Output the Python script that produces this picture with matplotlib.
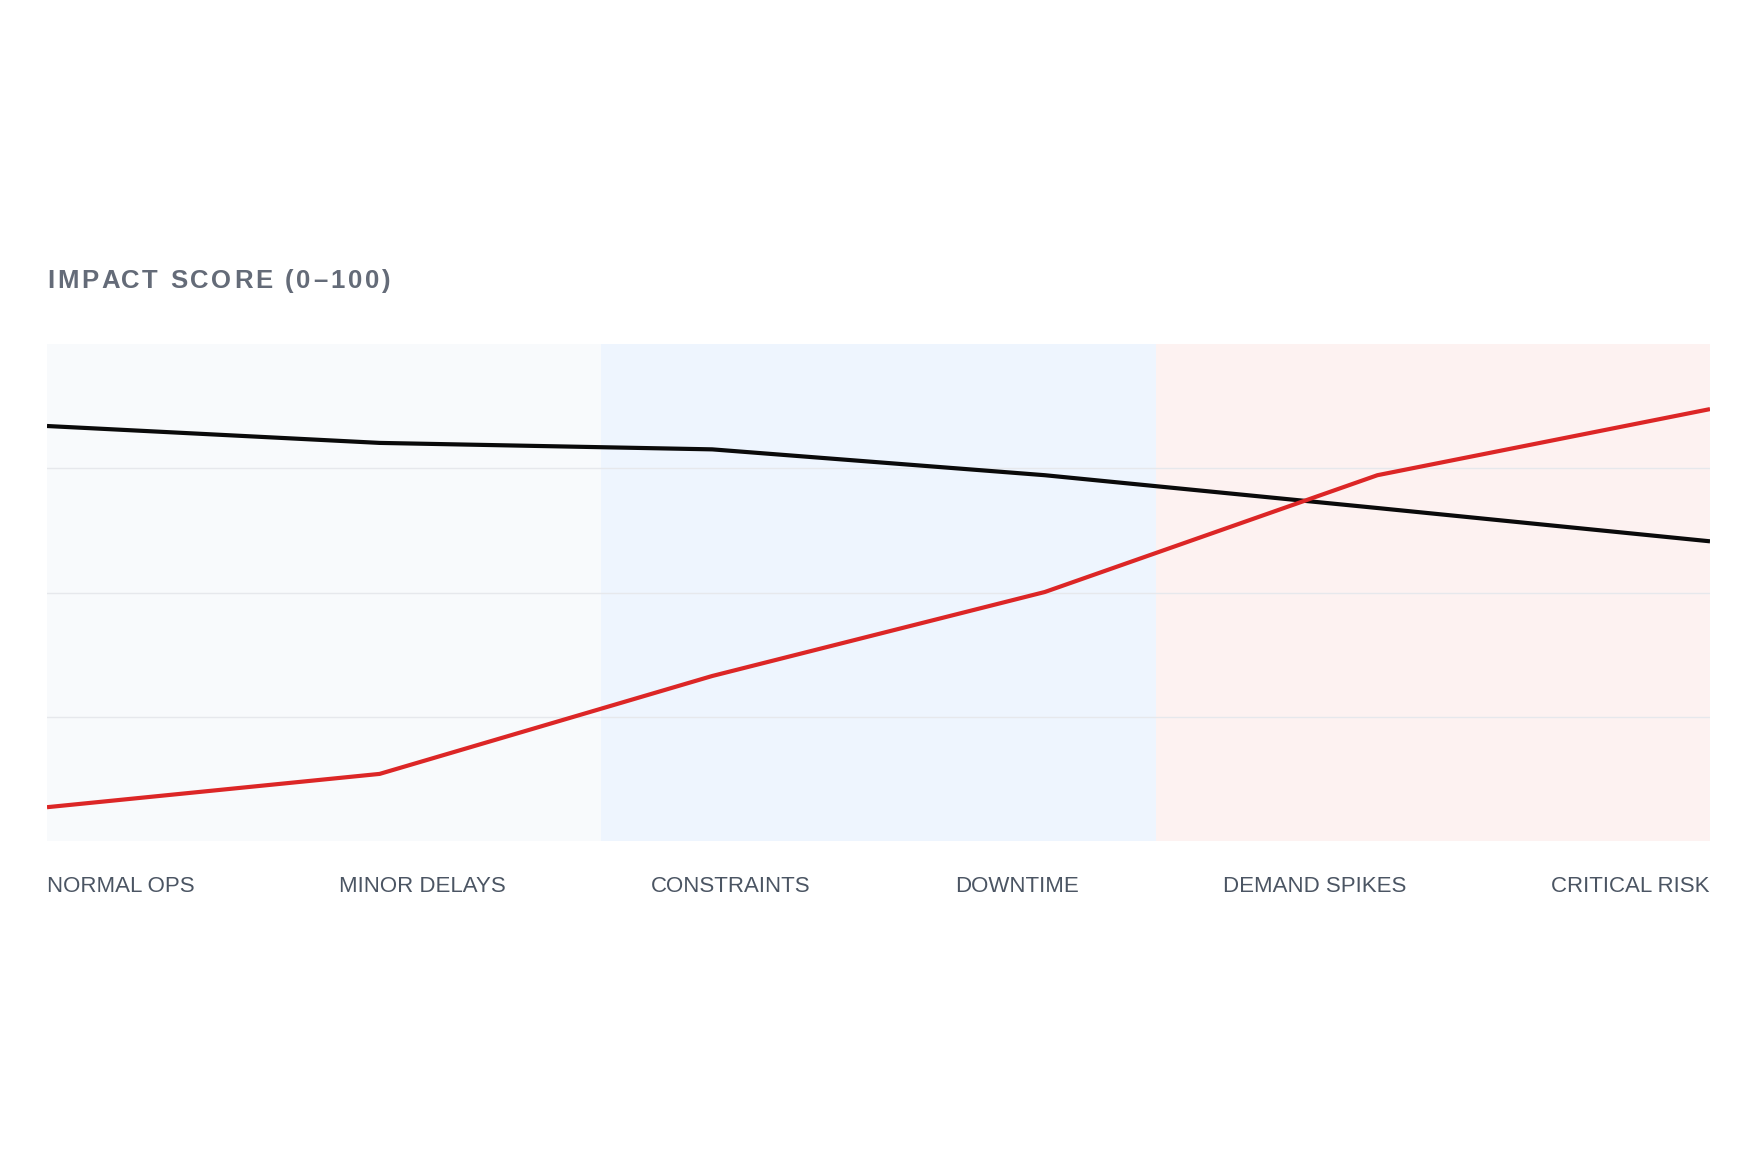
import numpy as np
import matplotlib
matplotlib.use('Agg')
import matplotlib.pyplot as plt

# Veriler
categories = ['NORMAL OPS', 'MINOR DELAYS', 'CONSTRAINTS', 'DOWNTIME', 'DEMAND SPIKES', 'CRITICAL RISK']
capacity = [83.5, 80.1, 78.8, 73.6, 67.0, 60.3]   # siyah çizgi
risk = [6.8, 13.5, 33.2, 50.1, 73.6, 86.9]        # kırmızı çizgi
zone_colors = ['#f8fafc', '#eef5fe', '#fdf2f1']
grid_values = [25, 50, 75]
title = 'IMPACT SCORE (0\u2013100)'

W, H = 1759, 1163
fig = plt.figure(figsize=(W / 100, H / 100), dpi=100)
ax = fig.add_axes([47 / W, 1 - 841 / H, (1710 - 47) / W, (841 - 344) / H])

x = np.arange(len(categories))
x_max = len(categories) - 1

# Arka plan bölgeleri
n_zones = len(zone_colors)
for i, c in enumerate(zone_colors):
    ax.axvspan(i * x_max / n_zones, (i + 1) * x_max / n_zones, color=c, lw=0, zorder=0)

for g in grid_values:
    ax.axhline(g, color='#e6e8ec', lw=1.0, zorder=1)

ax.plot(x, capacity, color='#0a0a0a', lw=3.0, solid_capstyle='butt', zorder=3)
ax.plot(x, risk, color='#dc2626', lw=3.0, solid_capstyle='butt', zorder=4)

ax.set_xlim(0, x_max)
ax.set_ylim(0, 100)
ax.set_xticks([])
ax.set_yticks([])
for s in ax.spines.values():
    s.set_visible(False)

fig.canvas.draw()
r = fig.canvas.get_renderer()

# Başlık (harf aralıklı)
title_kw = dict(fontsize=18.5, fontweight='bold', color='#646b78', family='Liberation Sans')
title_y = 1 - 281 / H
probe = fig.text(0, 0, title, **title_kw)
full_w = probe.get_window_extent(r).width
probe.remove()
spacing = (343 - full_w) / (len(title) - 1)
for i, ch in enumerate(title):
    if i > 0:
        t = fig.text(0, 0, title[:i] + '|', **title_kw)
        bar = fig.text(0, 0, '|', **title_kw)
        pre_w = t.get_window_extent(r).width - bar.get_window_extent(r).width
        t.remove()
        bar.remove()
    else:
        pre_w = 0
    fig.text((47 + pre_w + i * spacing) / W, title_y, ch, ha='left', va='center', **title_kw)

# X etiketleri (space-between yerleşimi)
texts = [ax.text(0, -0.1, c, transform=ax.transAxes, fontsize=16, color='#4b5563',
                 family='Liberation Sans', ha='left', va='center') for c in categories]
fig.canvas.draw()
ax_w = ax.get_window_extent(r).width
widths = [t.get_window_extent(r).width / ax_w for t in texts]
gap = (1 - sum(widths)) / (len(texts) - 1)
pos = 0
for t, w in zip(texts, widths):
    t.set_x(pos)
    t.set_y(-(887 - 841) / (841 - 344))
    pos += w + gap

fig.savefig('out.png', dpi=100, facecolor='white')
